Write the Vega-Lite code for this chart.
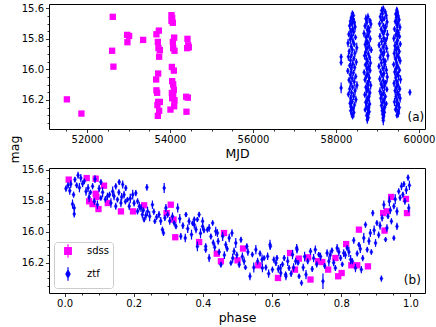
{
"$schema":"https://vega.github.io/schema/vega-lite/v6.json",
"padding":{"left":7,"top":2,"right":2,"bottom":4},
"background":"white",
"spacing":39,
"bounds":"flush",
"resolve":{"scale":{"fill":"independent","stroke":"independent","shape":"independent"},"legend":{"fill":"independent","stroke":"independent","shape":"independent"}},
"config":{
 "font":"DejaVu Sans",
 "view":{"stroke":"#000000","strokeWidth":1},
 "axis":{"domain":false,"grid":false,"tickColor":"#000000","tickWidth":0.8,"tickSize":3.5,"labelColor":"#000000","labelFontSize":10,"labelPadding":2,"titleColor":"#000000","titleFontSize":12.5,"titleFontWeight":"normal","titlePadding":3,"labelFont":"DejaVu Sans","titleFont":"DejaVu Sans"},
 "legend":{"orient":"bottom-left","offset":5,"padding":4,"symbolOffset":5,"rowPadding":3,"labelOffset":14,"labelFontSize":10,"labelFont":"DejaVu Sans","labelColor":"#000000","strokeColor":"#cccccc","fillColor":"#ffffff","cornerRadius":3,"symbolSize":49,"symbolStrokeWidth":1.2}
},
"datasets":{
"aS":[{"t":51515,"m":16.196},{"t":51865,"m":16.289},{"t":52621,"m":15.656},{"t":52605,"m":15.878},{"t":52636,"m":15.982},{"t":52966,"m":15.774},{"t":53015,"m":15.781},{"t":52974,"m":15.822},{"t":53352,"m":15.807},{"t":53673,"m":15.770},{"t":53731,"m":15.746},{"t":53707,"m":15.820},{"t":53722,"m":15.861},{"t":53755,"m":15.874},{"t":53738,"m":15.917},{"t":53714,"m":16.027},{"t":53666,"m":16.066},{"t":53673,"m":16.137},{"t":53690,"m":16.153},{"t":53714,"m":16.213},{"t":53755,"m":16.213},{"t":53697,"m":16.234},{"t":53738,"m":16.271},{"t":53707,"m":16.304},{"t":54035,"m":15.645},{"t":54052,"m":15.662},{"t":54035,"m":15.682},{"t":54068,"m":15.695},{"t":54100,"m":15.792},{"t":54068,"m":15.820},{"t":54076,"m":15.861},{"t":54108,"m":15.878},{"t":54045,"m":15.984},{"t":54093,"m":16.008},{"t":54052,"m":16.077},{"t":54076,"m":16.098},{"t":54093,"m":16.133},{"t":54045,"m":16.155},{"t":54076,"m":16.172},{"t":54052,"m":16.189},{"t":54108,"m":16.202},{"t":54100,"m":16.241},{"t":54011,"m":16.263},{"t":54421,"m":15.800},{"t":54438,"m":15.842},{"t":54414,"m":15.861},{"t":54454,"m":15.855},{"t":54390,"m":16.179},{"t":54430,"m":16.185},{"t":54397,"m":16.277}],
"aZ":[
{"t":58124,"m":15.918,"e":0.02},{"t":58124,"m":15.955,"e":0.02},{"t":58124,"m":16.121,"e":0.035},{"t":59781,"m":16.150,"e":0.02},
{"t":58395,"m":15.635,"e":0.02},{"t":58420,"m":15.648,"e":0.025},{"t":58370,"m":15.660,"e":0.018},{"t":58405,"m":15.672,"e":0.03},{"t":58350,"m":15.684,"e":0.022},{"t":58440,"m":15.690,"e":0.027},{"t":58385,"m":15.702,"e":0.016},{"t":58330,"m":15.715,"e":0.024},{"t":58460,"m":15.722,"e":0.032},{"t":58400,"m":15.735,"e":0.02},{"t":58355,"m":15.748,"e":0.019},{"t":58425,"m":15.756,"e":0.026},{"t":58310,"m":15.770,"e":0.02},{"t":58380,"m":15.781,"e":0.025},{"t":58470,"m":15.790,"e":0.018},{"t":58345,"m":15.802,"e":0.03},{"t":58410,"m":15.815,"e":0.022},{"t":58290,"m":15.828,"e":0.027},{"t":58440,"m":15.836,"e":0.016},{"t":58365,"m":15.850,"e":0.024},{"t":58500,"m":15.858,"e":0.032},{"t":58395,"m":15.871,"e":0.02},{"t":58320,"m":15.882,"e":0.019},{"t":58455,"m":15.894,"e":0.026},{"t":58375,"m":15.905,"e":0.02},{"t":58300,"m":15.918,"e":0.025},{"t":58430,"m":15.929,"e":0.018},{"t":58350,"m":15.940,"e":0.03},{"t":58490,"m":15.952,"e":0.022},{"t":58405,"m":15.963,"e":0.027},{"t":58330,"m":15.975,"e":0.016},{"t":58450,"m":15.988,"e":0.024},{"t":58370,"m":15.998,"e":0.032},{"t":58285,"m":16.010,"e":0.02},{"t":58420,"m":16.022,"e":0.019},{"t":58345,"m":16.035,"e":0.026},{"t":58475,"m":16.046,"e":0.02},{"t":58390,"m":16.058,"e":0.025},{"t":58315,"m":16.070,"e":0.018},{"t":58440,"m":16.081,"e":0.03},{"t":58360,"m":16.093,"e":0.022},{"t":58505,"m":16.104,"e":0.027},{"t":58400,"m":16.117,"e":0.016},{"t":58330,"m":16.128,"e":0.024},{"t":58460,"m":16.139,"e":0.032},{"t":58375,"m":16.152,"e":0.02},{"t":58300,"m":16.163,"e":0.019},{"t":58425,"m":16.175,"e":0.026},{"t":58355,"m":16.186,"e":0.02},{"t":58480,"m":16.198,"e":0.025},{"t":58390,"m":16.210,"e":0.018},{"t":58340,"m":16.222,"e":0.03},{"t":58445,"m":16.233,"e":0.022},{"t":58370,"m":16.246,"e":0.027},{"t":58410,"m":16.258,"e":0.016},{"t":58355,"m":16.270,"e":0.024},{"t":58430,"m":16.282,"e":0.032},{"t":58385,"m":16.295,"e":0.02},{"t":58400,"m":16.308,"e":0.019},
{"t":58770,"m":15.655,"e":0.022},{"t":58720,"m":15.668,"e":0.027},{"t":58815,"m":15.680,"e":0.016},{"t":58745,"m":15.692,"e":0.024},{"t":58840,"m":15.703,"e":0.03},{"t":58700,"m":15.716,"e":0.02},{"t":58785,"m":15.728,"e":0.019},{"t":58755,"m":15.740,"e":0.026},{"t":58805,"m":15.752,"e":0.02},{"t":58675,"m":15.765,"e":0.025},{"t":58775,"m":15.777,"e":0.018},{"t":58725,"m":15.789,"e":0.03},{"t":58825,"m":15.800,"e":0.022},{"t":58740,"m":15.812,"e":0.027},{"t":58765,"m":15.825,"e":0.016},{"t":58705,"m":15.837,"e":0.024},{"t":58800,"m":15.850,"e":0.032},{"t":58750,"m":15.861,"e":0.02},{"t":58850,"m":15.873,"e":0.019},{"t":58715,"m":15.886,"e":0.026},{"t":58780,"m":15.898,"e":0.02},{"t":58690,"m":15.910,"e":0.025},{"t":58810,"m":15.922,"e":0.018},{"t":58735,"m":15.934,"e":0.03},{"t":58760,"m":15.946,"e":0.022},{"t":58830,"m":15.958,"e":0.027},{"t":58710,"m":15.970,"e":0.016},{"t":58790,"m":15.983,"e":0.024},{"t":58745,"m":15.995,"e":0.032},{"t":58820,"m":16.007,"e":0.02},{"t":58680,"m":16.019,"e":0.019},{"t":58770,"m":16.031,"e":0.026},{"t":58730,"m":16.043,"e":0.02},{"t":58805,"m":16.056,"e":0.025},{"t":58700,"m":16.068,"e":0.018},{"t":58785,"m":16.080,"e":0.03},{"t":58755,"m":16.092,"e":0.022},{"t":58835,"m":16.104,"e":0.027},{"t":58720,"m":16.117,"e":0.016},{"t":58775,"m":16.129,"e":0.024},{"t":58740,"m":16.141,"e":0.032},{"t":58815,"m":16.153,"e":0.02},{"t":58695,"m":16.166,"e":0.019},{"t":58795,"m":16.178,"e":0.026},{"t":58750,"m":16.190,"e":0.02},{"t":58765,"m":16.202,"e":0.025},{"t":58715,"m":16.215,"e":0.018},{"t":58810,"m":16.227,"e":0.03},{"t":58735,"m":16.240,"e":0.022},{"t":58780,"m":16.252,"e":0.027},{"t":58705,"m":16.264,"e":0.016},{"t":58800,"m":16.277,"e":0.024},{"t":58760,"m":16.289,"e":0.032},{"t":58740,"m":16.302,"e":0.02},{"t":58775,"m":16.315,"e":0.019},{"t":58755,"m":16.330,"e":0.026},
{"t":59140,"m":15.602,"e":0.02},{"t":59100,"m":15.615,"e":0.025},{"t":59185,"m":15.622,"e":0.018},{"t":59120,"m":15.635,"e":0.03},{"t":59210,"m":15.648,"e":0.022},{"t":59070,"m":15.656,"e":0.027},{"t":59160,"m":15.668,"e":0.016},{"t":59110,"m":15.680,"e":0.024},{"t":59230,"m":15.690,"e":0.032},{"t":59050,"m":15.702,"e":0.02},{"t":59145,"m":15.714,"e":0.019},{"t":59195,"m":15.725,"e":0.026},{"t":59090,"m":15.737,"e":0.02},{"t":59170,"m":15.748,"e":0.025},{"t":59125,"m":15.760,"e":0.018},{"t":59240,"m":15.772,"e":0.03},{"t":59060,"m":15.783,"e":0.022},{"t":59150,"m":15.795,"e":0.027},{"t":59205,"m":15.806,"e":0.016},{"t":59100,"m":15.818,"e":0.024},{"t":59180,"m":15.830,"e":0.032},{"t":59040,"m":15.841,"e":0.02},{"t":59135,"m":15.853,"e":0.019},{"t":59220,"m":15.864,"e":0.026},{"t":59080,"m":15.876,"e":0.02},{"t":59160,"m":15.888,"e":0.025},{"t":59115,"m":15.899,"e":0.018},{"t":59250,"m":15.911,"e":0.03},{"t":59065,"m":15.922,"e":0.022},{"t":59145,"m":15.934,"e":0.027},{"t":59190,"m":15.946,"e":0.016},{"t":59095,"m":15.957,"e":0.024},{"t":59175,"m":15.969,"e":0.032},{"t":59035,"m":15.980,"e":0.02},{"t":59130,"m":15.992,"e":0.019},{"t":59215,"m":16.004,"e":0.026},{"t":59075,"m":16.015,"e":0.02},{"t":59155,"m":16.027,"e":0.025},{"t":59110,"m":16.038,"e":0.018},{"t":59235,"m":16.050,"e":0.03},{"t":59055,"m":16.062,"e":0.022},{"t":59140,"m":16.073,"e":0.027},{"t":59200,"m":16.085,"e":0.016},{"t":59090,"m":16.096,"e":0.024},{"t":59170,"m":16.108,"e":0.032},{"t":59120,"m":16.120,"e":0.02},{"t":59225,"m":16.131,"e":0.019},{"t":59060,"m":16.143,"e":0.026},{"t":59150,"m":16.154,"e":0.02},{"t":59105,"m":16.166,"e":0.025},{"t":59190,"m":16.178,"e":0.018},{"t":59080,"m":16.189,"e":0.03},{"t":59160,"m":16.201,"e":0.022},{"t":59130,"m":16.212,"e":0.027},{"t":59210,"m":16.224,"e":0.016},{"t":59095,"m":16.236,"e":0.024},{"t":59175,"m":16.247,"e":0.032},{"t":59140,"m":16.259,"e":0.02},{"t":59115,"m":16.270,"e":0.019},{"t":59165,"m":16.282,"e":0.026},{"t":59125,"m":16.294,"e":0.02},{"t":59150,"m":16.305,"e":0.025},{"t":59135,"m":16.318,"e":0.018},{"t":59140,"m":16.335,"e":0.03},
{"t":59465,"m":15.612,"e":0.022},{"t":59480,"m":15.625,"e":0.027},{"t":59440,"m":15.638,"e":0.016},{"t":59500,"m":15.650,"e":0.024},{"t":59455,"m":15.662,"e":0.032},{"t":59520,"m":15.675,"e":0.02},{"t":59430,"m":15.687,"e":0.019},{"t":59490,"m":15.699,"e":0.026},{"t":59470,"m":15.711,"e":0.02},{"t":59540,"m":15.724,"e":0.025},{"t":59410,"m":15.736,"e":0.018},{"t":59475,"m":15.748,"e":0.03},{"t":59505,"m":15.760,"e":0.022},{"t":59445,"m":15.773,"e":0.027},{"t":59530,"m":15.785,"e":0.016},{"t":59395,"m":15.797,"e":0.024},{"t":59485,"m":15.809,"e":0.032},{"t":59460,"m":15.822,"e":0.02},{"t":59550,"m":15.834,"e":0.019},{"t":59420,"m":15.846,"e":0.026},{"t":59495,"m":15.858,"e":0.02},{"t":59450,"m":15.871,"e":0.025},{"t":59525,"m":15.883,"e":0.018},{"t":59405,"m":15.895,"e":0.03},{"t":59470,"m":15.907,"e":0.022},{"t":59510,"m":15.920,"e":0.027},{"t":59435,"m":15.932,"e":0.016},{"t":59545,"m":15.944,"e":0.024},{"t":59460,"m":15.956,"e":0.032},{"t":59390,"m":15.968,"e":0.02},{"t":59490,"m":15.981,"e":0.019},{"t":59450,"m":15.993,"e":0.026},{"t":59530,"m":16.005,"e":0.02},{"t":59415,"m":16.017,"e":0.025},{"t":59475,"m":16.030,"e":0.018},{"t":59505,"m":16.042,"e":0.03},{"t":59440,"m":16.054,"e":0.022},{"t":59555,"m":16.066,"e":0.027},{"t":59465,"m":16.079,"e":0.016},{"t":59400,"m":16.091,"e":0.024},{"t":59495,"m":16.103,"e":0.032},{"t":59455,"m":16.115,"e":0.02},{"t":59535,"m":16.128,"e":0.019},{"t":59425,"m":16.140,"e":0.026},{"t":59480,"m":16.152,"e":0.02},{"t":59510,"m":16.164,"e":0.025},{"t":59445,"m":16.177,"e":0.018},{"t":59545,"m":16.189,"e":0.03},{"t":59470,"m":16.201,"e":0.022},{"t":59410,"m":16.213,"e":0.027},{"t":59500,"m":16.226,"e":0.016},{"t":59460,"m":16.238,"e":0.024},{"t":59525,"m":16.250,"e":0.032},{"t":59435,"m":16.262,"e":0.02},{"t":59485,"m":16.275,"e":0.019},{"t":59505,"m":16.287,"e":0.026},{"t":59470,"m":16.300,"e":0.02}
],
"bS":[{"p":0.012,"m":15.663},{"p":0.064,"m":15.653},{"p":0.090,"m":15.657},{"p":0.114,"m":15.702},{"p":0.090,"m":15.754},{"p":0.092,"m":15.775},{"p":0.071,"m":15.803},{"p":0.081,"m":15.821},{"p":0.098,"m":15.853},{"p":0.125,"m":15.814},{"p":0.163,"m":15.868},{"p":0.198,"m":15.868},{"p":0.230,"m":15.829},{"p":0.307,"m":15.825},{"p":0.295,"m":15.879},{"p":0.315,"m":15.921},{"p":0.320,"m":16.035},{"p":0.389,"m":16.066},{"p":0.440,"m":16.141},{"p":0.452,"m":16.190},{"p":0.461,"m":16.008},{"p":0.500,"m":16.184},{"p":0.516,"m":16.108},{"p":0.560,"m":16.216},{"p":0.617,"m":16.298},{"p":0.652,"m":16.137},{"p":0.677,"m":16.173},{"p":0.666,"m":16.244},{"p":0.704,"m":16.165},{"p":0.711,"m":16.308},{"p":0.733,"m":16.190},{"p":0.745,"m":16.195},{"p":0.762,"m":16.244},{"p":0.783,"m":16.169},{"p":0.791,"m":16.287},{"p":0.801,"m":16.266},{"p":0.814,"m":16.079},{"p":0.829,"m":16.216},{"p":0.846,"m":16.216},{"p":0.851,"m":15.986},{"p":0.877,"m":16.223},{"p":0.921,"m":15.879},{"p":0.932,"m":15.868},{"p":0.944,"m":15.775},{"p":0.925,"m":15.992},{"p":0.987,"m":15.788},{"p":0.990,"m":15.879}],
"bZ":[
{"p":0.004,"m":15.721,"e":0.02},{"p":0.018,"m":15.692,"e":0.025},{"p":0.030,"m":15.663,"e":0.018},{"p":0.039,"m":15.635,"e":0.022},{"p":0.047,"m":15.653,"e":0.027},{"p":0.026,"m":15.760,"e":0.02},{"p":0.023,"m":15.821,"e":0.03},{"p":0.028,"m":15.846,"e":0.024},{"p":0.028,"m":15.885,"e":0.022},{"p":0.057,"m":15.674,"e":0.019},{"p":0.068,"m":15.717,"e":0.026},{"p":0.081,"m":15.706,"e":0.02},{"p":0.088,"m":15.660,"e":0.025},{"p":0.105,"m":15.679,"e":0.018},{"p":0.071,"m":15.777,"e":0.03},{"p":0.086,"m":15.803,"e":0.022},{"p":0.095,"m":15.825,"e":0.027},{"p":0.105,"m":15.782,"e":0.016},{"p":0.124,"m":15.771,"e":0.024},{"p":0.139,"m":15.739,"e":0.032},{"p":0.148,"m":15.706,"e":0.02},{"p":0.158,"m":15.679,"e":0.019},{"p":0.168,"m":15.695,"e":0.026},{"p":0.177,"m":15.717,"e":0.02},{"p":0.172,"m":15.760,"e":0.025},{"p":0.153,"m":15.792,"e":0.018},{"p":0.134,"m":15.814,"e":0.03},{"p":0.148,"m":15.835,"e":0.022},{"p":0.163,"m":15.814,"e":0.027},{"p":0.182,"m":15.792,"e":0.016},{"p":0.187,"m":15.835,"e":0.024},{"p":0.197,"m":15.760,"e":0.032},{"p":0.206,"m":15.750,"e":0.02},{"p":0.211,"m":15.803,"e":0.019},{"p":0.221,"m":15.846,"e":0.026},{"p":0.211,"m":15.868,"e":0.02},{"p":0.225,"m":15.889,"e":0.025},{"p":0.230,"m":15.921,"e":0.018},{"p":0.240,"m":15.868,"e":0.03},{"p":0.238,"m":15.713,"e":0.022},{"p":0.254,"m":15.825,"e":0.027},{"p":0.261,"m":15.932,"e":0.016},{"p":0.273,"m":15.889,"e":0.024},{"p":0.288,"m":15.717,"e":0.032},{"p":0.283,"m":15.986,"e":0.02},{"p":0.286,"m":16.008,"e":0.019},{"p":0.293,"m":15.846,"e":0.026},{"p":0.298,"m":15.889,"e":0.02},{"p":0.312,"m":15.900,"e":0.025},{"p":0.317,"m":15.943,"e":0.018},{"p":0.327,"m":15.846,"e":0.03},{"p":0.336,"m":16.029,"e":0.022},{"p":0.349,"m":16.040,"e":0.027},{"p":0.351,"m":15.889,"e":0.016},{"p":0.360,"m":15.932,"e":0.024},{"p":0.367,"m":16.018,"e":0.032},{"p":0.375,"m":15.921,"e":0.02},{"p":0.389,"m":15.889,"e":0.019},{"p":0.399,"m":15.932,"e":0.026},{"p":0.408,"m":16.094,"e":0.02},{"p":0.418,"m":15.975,"e":0.025},{"p":0.428,"m":15.943,"e":0.018},{"p":0.437,"m":15.997,"e":0.03},{"p":0.444,"m":16.061,"e":0.022},
{"p":0.375,"m":15.954,"e":0.027},{"p":0.384,"m":15.921,"e":0.016},{"p":0.399,"m":15.965,"e":0.024},{"p":0.384,"m":16.094,"e":0.032},{"p":0.408,"m":16.115,"e":0.02},{"p":0.413,"m":15.986,"e":0.019},{"p":0.418,"m":16.169,"e":0.026},{"p":0.430,"m":16.070,"e":0.02},{"p":0.442,"m":16.008,"e":0.025},{"p":0.452,"m":16.212,"e":0.018},{"p":0.457,"m":16.029,"e":0.03},{"p":0.466,"m":16.083,"e":0.022},{"p":0.476,"m":16.040,"e":0.027},{"p":0.481,"m":16.201,"e":0.016},{"p":0.490,"m":16.126,"e":0.024},{"p":0.495,"m":16.072,"e":0.032},{"p":0.505,"m":16.212,"e":0.02},{"p":0.510,"m":16.051,"e":0.019},{"p":0.519,"m":16.190,"e":0.026},{"p":0.527,"m":16.094,"e":0.02},{"p":0.536,"m":16.287,"e":0.025},{"p":0.543,"m":16.147,"e":0.018},{"p":0.553,"m":16.115,"e":0.03},{"p":0.558,"m":16.190,"e":0.022},{"p":0.572,"m":16.234,"e":0.027},{"p":0.577,"m":16.169,"e":0.016},{"p":0.587,"m":16.158,"e":0.024},{"p":0.594,"m":16.083,"e":0.032},{"p":0.601,"m":16.244,"e":0.02},{"p":0.611,"m":16.201,"e":0.019},{"p":0.625,"m":16.266,"e":0.026},{"p":0.635,"m":16.169,"e":0.02},{"p":0.640,"m":16.287,"e":0.025},{"p":0.649,"m":16.234,"e":0.018},{"p":0.659,"m":16.147,"e":0.03},{"p":0.668,"m":16.190,"e":0.022},{"p":0.671,"m":16.105,"e":0.027},{"p":0.678,"m":16.287,"e":0.016},
{"p":0.484,"m":16.008,"e":0.024},{"p":0.571,"m":16.179,"e":0.032},{"p":0.595,"m":16.094,"e":0.02},{"p":0.614,"m":16.169,"e":0.019},{"p":0.624,"m":16.234,"e":0.026},{"p":0.639,"m":16.276,"e":0.02},{"p":0.672,"m":16.115,"e":0.025},{"p":0.685,"m":16.330,"e":0.018},{"p":0.698,"m":16.276,"e":0.03},{"p":0.711,"m":16.126,"e":0.022},{"p":0.725,"m":16.115,"e":0.027},{"p":0.735,"m":16.147,"e":0.016},{"p":0.747,"m":16.319,"e":0.05},{"p":0.759,"m":16.137,"e":0.024},{"p":0.764,"m":16.190,"e":0.032},{"p":0.773,"m":16.121,"e":0.02},{"p":0.783,"m":16.234,"e":0.019},{"p":0.788,"m":16.105,"e":0.026},{"p":0.798,"m":16.169,"e":0.02},{"p":0.807,"m":16.137,"e":0.025},{"p":0.817,"m":16.105,"e":0.018},{"p":0.827,"m":16.179,"e":0.03},{"p":0.836,"m":16.055,"e":0.022},{"p":0.841,"m":16.234,"e":0.027},{"p":0.851,"m":16.083,"e":0.016},{"p":0.858,"m":16.244,"e":0.024},{"p":0.865,"m":16.040,"e":0.032},{"p":0.870,"m":15.954,"e":0.02},{"p":0.875,"m":16.115,"e":0.019},{"p":0.884,"m":16.008,"e":0.026},{"p":0.891,"m":15.879,"e":0.02},{"p":0.899,"m":16.072,"e":0.025},{"p":0.903,"m":15.943,"e":0.018},{"p":0.916,"m":16.302,"e":0.02},{"p":0.918,"m":15.911,"e":0.022},{"p":0.923,"m":15.825,"e":0.027},{"p":0.928,"m":16.050,"e":0.016},{"p":0.932,"m":15.975,"e":0.024},{"p":0.939,"m":15.803,"e":0.032},{"p":0.945,"m":15.932,"e":0.02},{"p":0.952,"m":15.835,"e":0.019},{"p":0.961,"m":15.868,"e":0.026},{"p":0.966,"m":15.739,"e":0.02},{"p":0.974,"m":15.706,"e":0.025},{"p":0.981,"m":15.692,"e":0.018},{"p":0.997,"m":15.700,"e":0.03},{"p":0.984,"m":15.803,"e":0.022},{"p":0.995,"m":15.846,"e":0.027},{"p":0.952,"m":16.040,"e":0.016},{"p":0.961,"m":15.965,"e":0.024},
{"p":0.010,"m":15.700,"e":0.02},{"p":0.015,"m":15.735,"e":0.025},{"p":0.035,"m":15.700,"e":0.018},{"p":0.043,"m":15.715,"e":0.03},{"p":0.052,"m":15.690,"e":0.022},{"p":0.062,"m":15.740,"e":0.027},{"p":0.075,"m":15.745,"e":0.016},{"p":0.100,"m":15.720,"e":0.024},{"p":0.110,"m":15.745,"e":0.032},{"p":0.118,"m":15.790,"e":0.02},{"p":0.130,"m":15.760,"e":0.019},{"p":0.143,"m":15.770,"e":0.026},{"p":0.157,"m":15.745,"e":0.02},{"p":0.165,"m":15.775,"e":0.025},{"p":0.176,"m":15.805,"e":0.018},{"p":0.190,"m":15.785,"e":0.03},{"p":0.201,"m":15.815,"e":0.022},{"p":0.216,"m":15.835,"e":0.027},{"p":0.228,"m":15.860,"e":0.016},{"p":0.235,"m":15.895,"e":0.024},{"p":0.246,"m":15.900,"e":0.032},{"p":0.258,"m":15.870,"e":0.02},{"p":0.266,"m":15.905,"e":0.019},{"p":0.278,"m":15.930,"e":0.026},{"p":0.290,"m":15.910,"e":0.02},{"p":0.304,"m":15.930,"e":0.025},{"p":0.322,"m":15.965,"e":0.018},{"p":0.333,"m":15.915,"e":0.03},{"p":0.342,"m":15.960,"e":0.022},{"p":0.356,"m":15.980,"e":0.027},{"p":0.370,"m":15.945,"e":0.016},{"p":0.380,"m":15.985,"e":0.024},{"p":0.393,"m":16.010,"e":0.032},{"p":0.403,"m":15.990,"e":0.02},{"p":0.423,"m":16.030,"e":0.019},{"p":0.434,"m":16.100,"e":0.026},{"p":0.447,"m":16.130,"e":0.02},{"p":0.462,"m":16.150,"e":0.025},{"p":0.470,"m":16.110,"e":0.018},{"p":0.486,"m":16.170,"e":0.03},{"p":0.498,"m":16.150,"e":0.022},{"p":0.514,"m":16.160,"e":0.027},{"p":0.523,"m":16.230,"e":0.016},{"p":0.530,"m":16.130,"e":0.024},{"p":0.547,"m":16.230,"e":0.032},{"p":0.565,"m":16.140,"e":0.02},{"p":0.582,"m":16.230,"e":0.019},{"p":0.590,"m":16.270,"e":0.026},{"p":0.605,"m":16.180,"e":0.02},{"p":0.618,"m":16.240,"e":0.025},{"p":0.630,"m":16.210,"e":0.018},{"p":0.645,"m":16.190,"e":0.03},{"p":0.655,"m":16.270,"e":0.022},{"p":0.662,"m":16.230,"e":0.027},{"p":0.675,"m":16.200,"e":0.016},{"p":0.690,"m":16.230,"e":0.024},{"p":0.694,"m":16.160,"e":0.032},{"p":0.703,"m":16.190,"e":0.02},{"p":0.716,"m":16.240,"e":0.019},{"p":0.720,"m":16.170,"e":0.026},{"p":0.729,"m":16.210,"e":0.02},{"p":0.740,"m":16.160,"e":0.025},{"p":0.752,"m":16.220,"e":0.018},{"p":0.768,"m":16.150,"e":0.03},{"p":0.778,"m":16.200,"e":0.022},{"p":0.793,"m":16.130,"e":0.027},{"p":0.803,"m":16.210,"e":0.016},{"p":0.812,"m":16.150,"e":0.024},{"p":0.822,"m":16.130,"e":0.032},{"p":0.832,"m":16.190,"e":0.02},{"p":0.846,"m":16.140,"e":0.019},{"p":0.855,"m":16.110,"e":0.026},{"p":0.862,"m":16.170,"e":0.02},{"p":0.880,"m":16.060,"e":0.025},{"p":0.887,"m":16.130,"e":0.018},{"p":0.895,"m":15.990,"e":0.03},{"p":0.908,"m":16.020,"e":0.022},{"p":0.912,"m":15.960,"e":0.027},{"p":0.935,"m":15.900,"e":0.016},{"p":0.942,"m":15.860,"e":0.024},{"p":0.956,"m":15.790,"e":0.032},{"p":0.970,"m":15.780,"e":0.02},{"p":0.978,"m":15.760,"e":0.019},{"p":0.988,"m":15.730,"e":0.026},{"p":0.993,"m":15.650,"e":0.02}
]
},
"vconcat":[
{
 "width":376,"height":125,
 "resolve":{"axis":{"x":"independent","y":"independent"}},
 "layer":[
  {"data":{"name":"aS"},"mark":{"type":"point","shape":"square","filled":true,"color":"#ff00ff","size":40,"opacity":1},
   "encoding":{
    "x":{"field":"t","type":"quantitative","scale":{"domain":[51084,60145],"nice":false,"zero":false},"axis":{"orient":"bottom","values":[52000,54000,56000,58000,60000],"format":"d","title":"MJD"}},
    "y":{"field":"m","type":"quantitative","scale":{"domain":[15.572,16.39],"reverse":true,"nice":false,"zero":false},"axis":{"orient":"left","values":[15.6,15.8,16.0,16.2],"format":".1f","title":null}}}},
  {"data":{"name":"aZ"},"mark":{"type":"errorbar","color":"#0000ff","thickness":1.2},
   "encoding":{"x":{"field":"t","type":"quantitative","axis":null},"y":{"field":"m","type":"quantitative","axis":null},"yError":{"field":"e"}}},
  {"data":{"name":"aZ"},"mark":{"type":"point","shape":"M0,-1L0.62,0L0,1L-0.62,0Z","filled":true,"color":"#0000ff","stroke":"#0000ff","strokeWidth":0.4,"size":26,"opacity":1},
   "encoding":{
    "x":{"field":"t","type":"quantitative","axis":{"orient":"bottom","values":[51500,52500,53000,53500,54500,55000,55500,56500,57000,57500,58500,59000,59500],"labels":false,"tickSize":2,"title":null}},
    "y":{"field":"m","type":"quantitative","axis":{"orient":"left","values":[15.65,15.7,15.75,15.85,15.9,15.95,16.05,16.1,16.15,16.25,16.3,16.35],"labels":false,"tickSize":2,"title":null}}}},
  {"data":{"values":[{"label":"(a)"}]},"mark":{"type":"text","align":"right","baseline":"middle","fontSize":12,"font":"DejaVu Sans","color":"#000000"},
   "encoding":{"text":{"field":"label"},"x":{"datum":60125,"type":"quantitative","axis":null},"y":{"datum":16.311,"type":"quantitative","axis":null}}}
 ]
},
{
 "width":376,"height":125,
 "resolve":{"axis":{"x":"independent","y":"independent"}},
 "layer":[
  {"data":{"name":"bS"},"mark":{"type":"point","shape":"square","filled":true,"color":"#ff00ff","size":40,"opacity":1},
   "encoding":{
    "x":{"field":"p","type":"quantitative","scale":{"domain":[-0.045,1.042],"nice":false,"zero":false},"axis":{"orient":"bottom","values":[0,0.2,0.4,0.6,0.8,1.0],"format":".1f","title":"phase"}},
    "y":{"field":"m","type":"quantitative","scale":{"domain":[15.588,16.395],"reverse":true,"nice":false,"zero":false},"axis":{"orient":"left","values":[15.6,15.8,16.0,16.2],"format":".1f","title":"mag","titleX":-35,"titleY":-19,"titleBaseline":"middle","titleAngle":270}}}},
  {"data":{"name":"bZ"},"mark":{"type":"errorbar","color":"#0000ff","thickness":1.2},
   "encoding":{"x":{"field":"p","type":"quantitative","axis":null},"y":{"field":"m","type":"quantitative","axis":null},"yError":{"field":"e"}}},
  {"data":{"name":"bZ"},"mark":{"type":"point","shape":"M0,-1L0.62,0L0,1L-0.62,0Z","filled":true,"color":"#0000ff","stroke":"#0000ff","strokeWidth":0.4,"size":26,"opacity":1},
   "encoding":{
    "x":{"field":"p","type":"quantitative","axis":{"orient":"bottom","values":[0.05,0.1,0.15,0.25,0.3,0.35,0.45,0.5,0.55,0.65,0.7,0.75,0.85,0.9,0.95],"labels":false,"tickSize":2,"title":null}},
    "y":{"field":"m","type":"quantitative","axis":{"orient":"left","values":[15.65,15.7,15.75,15.85,15.9,15.95,16.05,16.1,16.15,16.25,16.3,16.35],"labels":false,"tickSize":2,"title":null}}}},
  {"data":{"values":[{"label":"(b)"}]},"mark":{"type":"text","align":"right","baseline":"middle","fontSize":12,"font":"DejaVu Sans","color":"#000000"},
   "encoding":{"text":{"field":"label"},"x":{"datum":1.03,"type":"quantitative","axis":null},"y":{"datum":16.308,"type":"quantitative","axis":null}}},
  {"data":{"values":[{"s":"sdss"},{"s":"ztf"}]},"mark":{"type":"point","filled":true,"size":49,"opacity":0},
   "encoding":{
    "fill":{"field":"s","type":"nominal","scale":{"domain":["sdss","ztf"],"range":["#ff00ff","#0000ff"]},"legend":{"title":null,"orient":"bottom-left","encode":{"symbols":{"update":{"opacity":{"value":1}}}}}},
    "stroke":{"field":"s","type":"nominal","scale":{"domain":["sdss","ztf"],"range":["#ff00ff","#0000ff"]},"legend":{"title":null,"orient":"bottom-left","encode":{"symbols":{"update":{"opacity":{"value":1}}}}}},
    "shape":{"field":"s","type":"nominal","scale":{"domain":["sdss","ztf"],"range":["M-0.95,-0.95H0.95V0.95H-0.95Z M0,-1.9V1.9","M0,-1.05L0.6,0L0,1.05L-0.6,0Z M0,-1.9V1.9"]},"legend":{"title":null,"orient":"bottom-left","encode":{"symbols":{"update":{"opacity":{"value":1}}}}}}}}
 ]
}
]
}
